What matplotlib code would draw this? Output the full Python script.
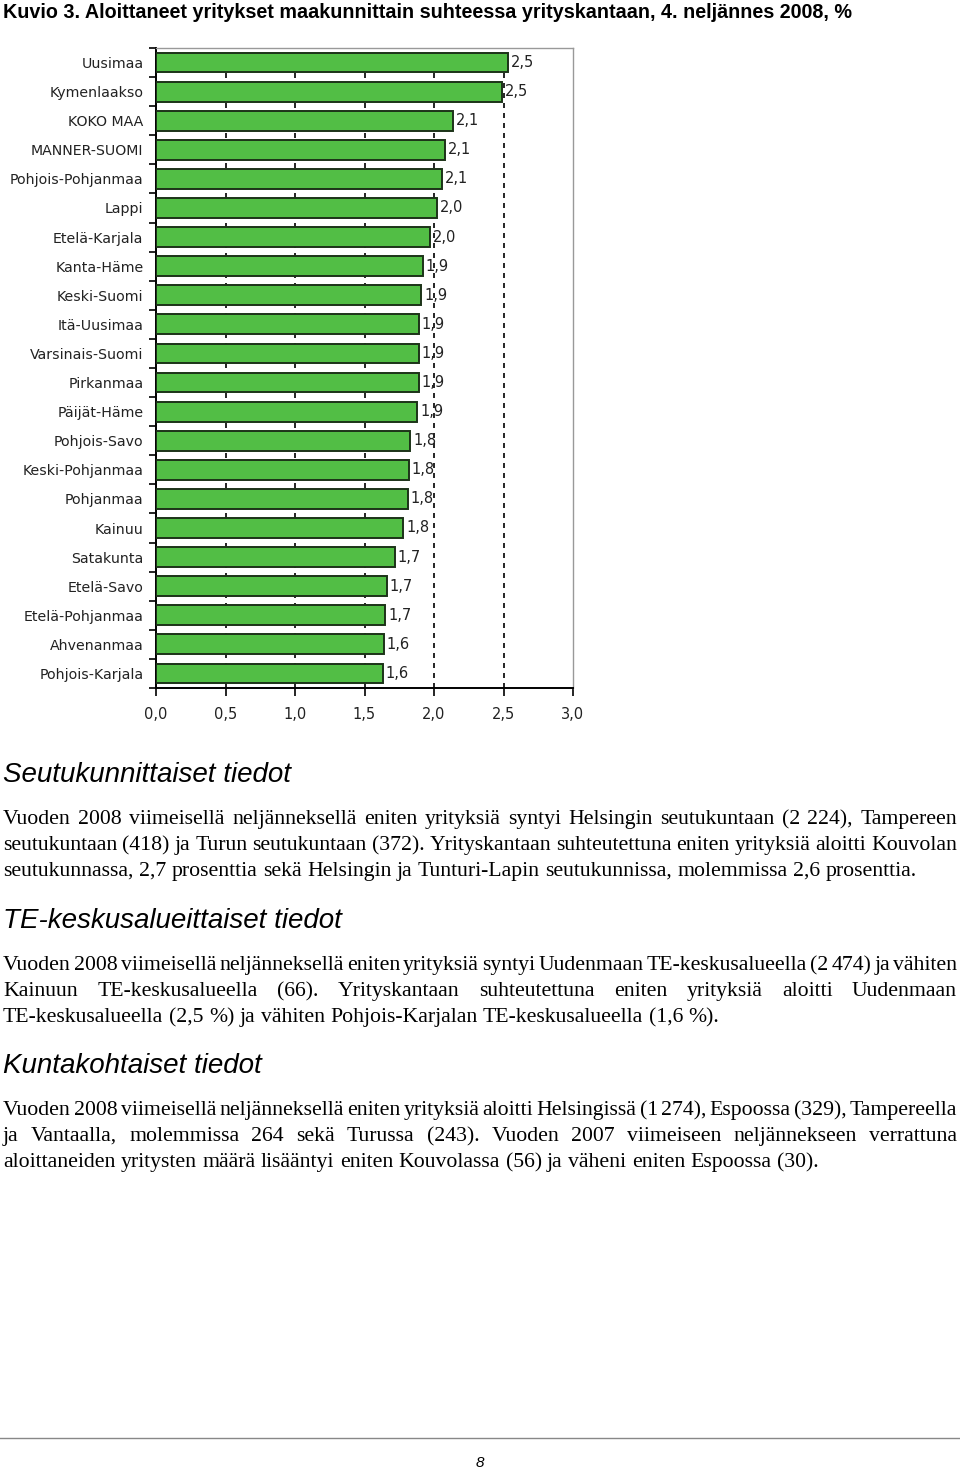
"""
Kuvio 3: aloittaneet yritykset maakunnittain + selitysteksti
"""
import numpy as np
import matplotlib as mpl
import matplotlib.pyplot as plt

mpl.rcParams['font.family'] = 'DejaVu Sans'

# data
regions = ['Uusimaa', 'Kymenlaakso', 'KOKO MAA', 'MANNER-SUOMI',
           'Pohjois-Pohjanmaa', 'Lappi', 'Etelä-Karjala', 'Kanta-Häme',
           'Keski-Suomi', 'Itä-Uusimaa', 'Varsinais-Suomi', 'Pirkanmaa',
           'Päijät-Häme', 'Pohjois-Savo', 'Keski-Pohjanmaa', 'Pohjanmaa',
           'Kainuu', 'Satakunta', 'Etelä-Savo', 'Etelä-Pohjanmaa',
           'Ahvenanmaa', 'Pohjois-Karjala']
values = [2.53, 2.49, 2.14, 2.08, 2.06, 2.02, 1.97, 1.92, 1.91, 1.89, 1.89,
          1.89, 1.88, 1.83, 1.82, 1.81, 1.78, 1.72, 1.66, 1.65, 1.64, 1.63]
value_labels = ['2,5', '2,5', '2,1', '2,1', '2,1', '2,0', '2,0', '1,9', '1,9',
                '1,9', '1,9', '1,9', '1,9', '1,8', '1,8', '1,8', '1,8', '1,7',
                '1,7', '1,7', '1,6', '1,6']
xticks = [0.0, 0.5, 1.0, 1.5, 2.0, 2.5, 3.0]
xtick_labels = ['0,0', '0,5', '1,0', '1,5', '2,0', '2,5', '3,0']

title = ("Kuvio 3. Aloittaneet yritykset maakunnittain suhteessa "
         "yrityskantaan, 4. neljännes 2008, %")

# sections: heading + paragraph lines (as broken in the original)
sections = [
    ("Seutukunnittaiset tiedot", [
        "Vuoden 2008 viimeisellä neljänneksellä eniten yrityksiä syntyi "
        "Helsingin seutukuntaan (2 224), Tampereen",
        "seutukuntaan (418) ja Turun seutukuntaan (372). Yrityskantaan "
        "suhteutettuna eniten yrityksiä aloitti Kouvolan",
        "seutukunnassa, 2,7 prosenttia sekä Helsingin ja Tunturi-Lapin "
        "seutukunnissa, molemmissa 2,6 prosenttia.",
    ]),
    ("TE-keskusalueittaiset tiedot", [
        "Vuoden 2008 viimeisellä neljänneksellä eniten yrityksiä syntyi "
        "Uudenmaan TE-keskusalueella (2 474) ja vähiten",
        "Kainuun TE-keskusalueella (66). Yrityskantaan suhteutettuna eniten "
        "yrityksiä aloitti Uudenmaan",
        "TE-keskusalueella (2,5 %) ja vähiten Pohjois-Karjalan "
        "TE-keskusalueella (1,6 %).",
    ]),
    ("Kuntakohtaiset tiedot", [
        "Vuoden 2008 viimeisellä neljänneksellä eniten yrityksiä aloitti "
        "Helsingissä (1 274), Espoossa (329), Tampereella",
        "ja Vantaalla, molemmissa 264 sekä Turussa (243). Vuoden 2007 "
        "viimeiseen neljännekseen verrattuna",
        "aloittaneiden yritysten määrä lisääntyi eniten Kouvolassa (56) ja "
        "väheni eniten Espoossa (30).",
    ]),
]

W, H = 960, 1470
fig = plt.figure(figsize=(W / 100, H / 100), dpi=100)


def fx(px):
    return px / W


def fy(py):
    return 1 - py / H


# ---- bar chart ----
ax = fig.add_axes([fx(156), fy(688), fx(573 - 156), (688 - 48) / H])
n = len(regions)
pos = np.arange(n)
ax.barh(pos, values, height=0.68, color='#52BE45', edgecolor='#1c3318',
        linewidth=1.4, zorder=3)
for i, (v, lab) in enumerate(zip(values, value_labels)):
    ax.text(v + 0.02, i, lab, va='center', ha='left', fontsize=10.5,
            color='#222222', zorder=4)

for x in xticks[1:-1]:
    ax.axvline(x, color='k', linestyle=(0, (3, 3)), linewidth=1.2, zorder=1)

ax.set_xlim(0, 3.0)
ax.set_ylim(n - 0.5, -0.5)
ax.set_yticks(pos)
ax.set_yticklabels(regions, fontsize=10.2, color='#222222')
ax.set_yticks(np.arange(n + 1) - 0.5, minor=True)
ax.tick_params(axis='y', which='major', length=0, pad=9)
ax.tick_params(axis='y', which='minor', length=5, width=1.2)
ax.set_xticks(xticks)
ax.set_xticklabels(xtick_labels, fontsize=10.5, color='#222222')
ax.tick_params(axis='x', length=6, width=1.2, pad=8)
ax.spines['left'].set_linewidth(1.4)
ax.spines['bottom'].set_linewidth(1.4)
for s in ['top', 'right']:
    ax.spines[s].set_color('#999999')
    ax.spines[s].set_linewidth(1.0)

# ---- texts ----
fig.text(fx(3), fy(18), title, fontsize=14.2, fontweight='bold',
         family='Liberation Sans', va='baseline', ha='left')

renderer = fig.canvas.get_renderer()
BODY = 15.7


def space_width(size):
    a = fig.text(0, 0, 'a a', fontsize=size, family='Liberation Serif')
    b = fig.text(0, 0, 'aa', fontsize=size, family='Liberation Serif')
    w = a.get_window_extent(renderer).width - b.get_window_extent(renderer).width
    a.remove()
    b.remove()
    return w


def justified_line(line, base_y, last=False, size=BODY):
    words = line.split(' ')
    texts = []
    widths = []
    for w in words:
        t = fig.text(0, fy(base_y), w, fontsize=size, family='Liberation Serif',
                     va='baseline', ha='left')
        widths.append(t.get_window_extent(renderer).width)
        texts.append(t)
    left, right = 3, 957
    if last or len(words) == 1:
        gap = space_width(size)
    else:
        gap = (right - left - sum(widths)) / (len(words) - 1)
        if gap < 2:
            # squeeze the words a bit so the line still fits
            scale = (right - left - 2 * (len(words) - 1)) / sum(widths)
            for t in texts:
                t.set_fontsize(size * scale)
            widths = [wd * scale for wd in widths]
            gap = 2
    x = left
    for t, wd in zip(texts, widths):
        t.set_x(fx(x))
        x += wd + gap


head_base = [782, 928, 1073]
for (head, lines), hb in zip(sections, head_base):
    fig.text(fx(3), fy(hb), head, fontsize=20, style='italic',
             family='Liberation Sans', va='baseline', ha='left')
    for j, line in enumerate(lines):
        justified_line(line, hb + 42 + 26 * j, last=(j == len(lines) - 1))

# footer
fig.add_artist(plt.Line2D([0, 1], [fy(1438), fy(1438)], color='#888888',
                          linewidth=1.0))
fig.text(0.5, fy(1463), '8', fontsize=11, style='italic',
         family='Liberation Sans', va='center', ha='center')

fig.savefig('out.png', dpi=100)
